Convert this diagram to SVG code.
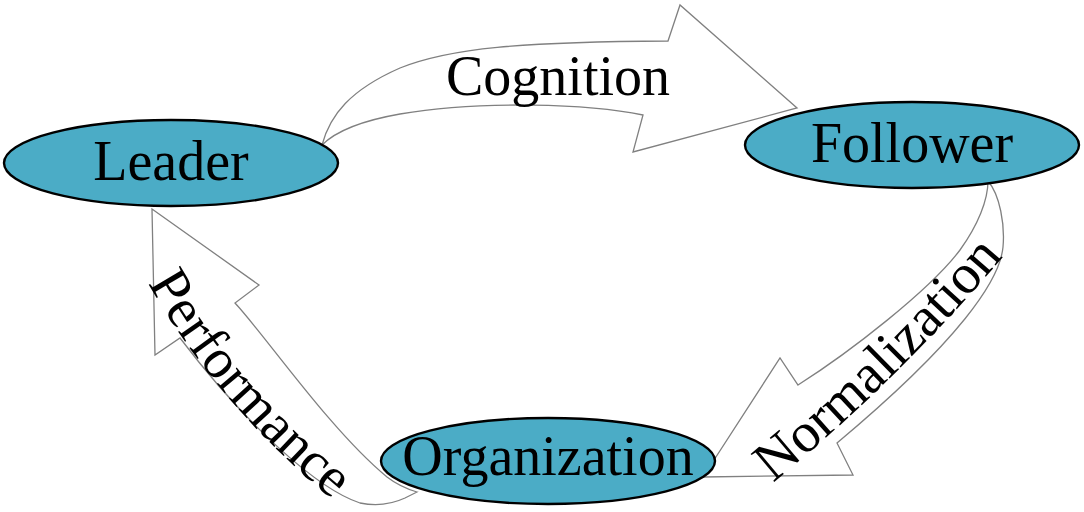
<svg xmlns="http://www.w3.org/2000/svg" width="1084" height="512" viewBox="0 0 1084 512">
<style>
.arrow{fill:#ffffff;stroke:#808080;stroke-width:1.3;stroke-linejoin:miter}
.node{fill:#4BACC6;stroke:#000000;stroke-width:2.4}
.lbl{font-family:"Liberation Serif","Times New Roman",serif;font-size:56px;fill:#000000}
</style>
<defs>
<path id="pPerf" d="M148,283 Q215,402 333,500"/>
<path id="pNorm" d="M773,483 Q898,380 1003,257"/>
</defs>
<g id="connectors">
<g id="cognition">
<path class="arrow" d="M322,145 C330,115 350,90 400,68 C450,48 520,42 668,41 L680,5 L797,108 L633,152 L643,115 C590,104 480,100 400,114 C360,121 335,132 322,145 Z"/>
<text class="lbl" x="558" y="95" text-anchor="middle">Cognition</text>
</g>
<g id="normalization">
<path class="arrow" d="M988,181 C1000,195 1005,225 1003,247 C1000,280 960,340 837,443 L853,475 L703,477 L780,358 L798,385 C850,352 930,290 960,250 C978,225 988,200 988,181 Z"/>
<text class="lbl"><textPath href="#pNorm">Normalization</textPath></text>
</g>
<g id="performance">
<path class="arrow" d="M152,209 L259,285 L235,303 C265,335 330,430 387,477 Q400,487 417,492 L405,498 C390,505 375,506 360,503 C320,490 250,430 180,338 L155,355 Z"/>
<text class="lbl"><textPath href="#pPerf">Performance</textPath></text>
</g>
</g>
<g id="leader">
<ellipse class="node" cx="171" cy="163" rx="167" ry="43"/>
<text class="lbl" x="171" y="180" text-anchor="middle">Leader</text>
</g>
<g id="follower">
<ellipse class="node" cx="912" cy="145" rx="167" ry="43"/>
<text class="lbl" x="912" y="162" text-anchor="middle">Follower</text>
</g>
<g id="organization">
<ellipse class="node" cx="548" cy="461" rx="167" ry="43"/>
<text class="lbl" x="548" y="475" text-anchor="middle">Organization</text>
</g>
</svg>
